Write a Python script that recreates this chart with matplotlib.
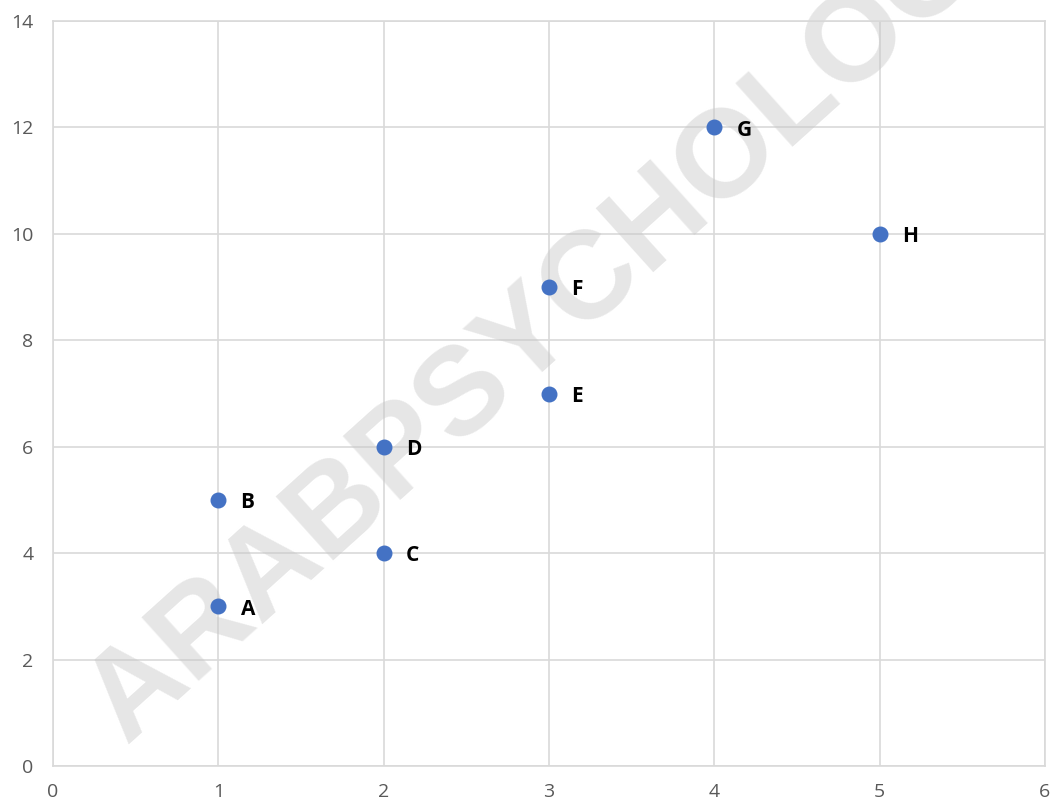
import matplotlib

matplotlib.use("Agg")
import matplotlib.pyplot as plt

# data
labels = ["A", "B", "C", "D", "E", "F", "G", "H"]
x_values = [1, 1, 2, 2, 3, 3, 4, 5]
y_values = [3, 5, 4, 6, 7, 9, 12, 10]
x_ticks = [0, 1, 2, 3, 4, 5, 6]
y_ticks = [0, 2, 4, 6, 8, 10, 12, 14]

plt.rcParams["font.family"] = ["Open Sans", "DejaVu Sans"]

grid_color = "#d9d9d9"
point_color = "#4472c4"

fig = plt.figure(figsize=(10.5, 8.05), dpi=100)
ax = fig.add_axes([0.0505, 0.0484, 0.9447, 0.9255])

ax.set_xlim(0, 6)
ax.set_ylim(0, 14)
ax.set_xticks(x_ticks)
ax.set_yticks(y_ticks)
ax.grid(True, color=grid_color, linewidth=1.2)
ax.set_axisbelow(True)
for spine in ax.spines.values():
    spine.set_color(grid_color)
    spine.set_linewidth(1.2)
ax.tick_params(length=0, labelsize=14, labelcolor="#595959", pad=12)
ax.tick_params(axis="y", pad=14)

# watermark, under the points
ax.text(
    0.12, 0.075, "ARABPSYCHOLOGY", transform=fig.transFigure,
    fontsize=90, fontweight="bold", color="#c8c8c8", alpha=0.45,
    rotation=42, rotation_mode="anchor", ha="left", va="baseline",
    family=["Liberation Sans"], zorder=2, clip_on=False,
)

ax.scatter(x_values, y_values, s=110, color=point_color, zorder=3)
for label, xv, yv in zip(labels, x_values, y_values):
    ax.annotate(
        label, (xv, yv), textcoords="offset points", xytext=(16, -2),
        ha="left", va="center", fontsize=15, fontweight="bold", color="black",
        zorder=4,
    )

fig.savefig("out.png")
